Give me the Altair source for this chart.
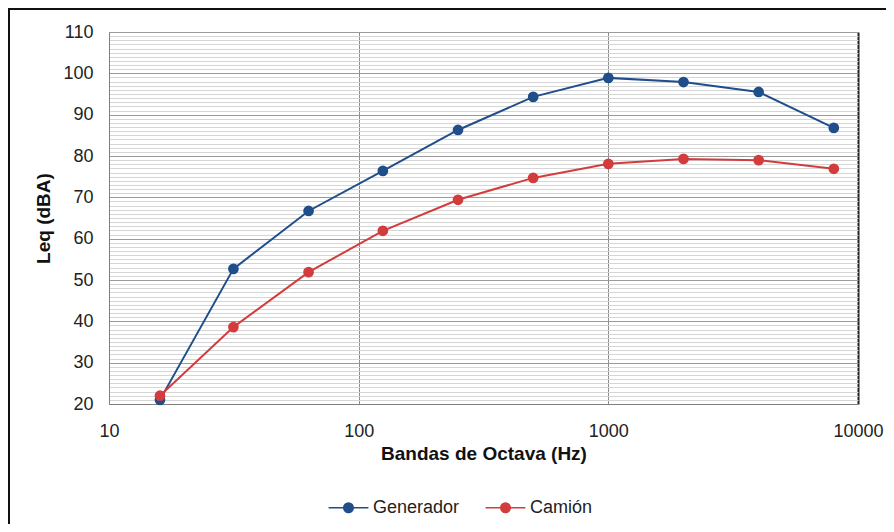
import altair as alt
import pandas as pd

freqs = [16, 31.5, 63, 125, 250, 500, 1000, 2000, 4000, 8000]
generador = [21.0, 52.7, 66.7, 76.4, 86.3, 94.3, 98.9, 97.9, 95.5, 86.8]
camion = [22.0, 38.6, 51.9, 61.9, 69.4, 74.7, 78.1, 79.3, 79.0, 76.9]
series_names = ["Generador", "Camión"]
series_colors = ["#1F4E8A", "#D23C3C"]
x_ticks = [10, 100, 1000, 10000]
y_ticks = list(range(20, 111))

rows = []
for f, g in zip(freqs, generador):
    rows.append({"f": f, "leq": g, "serie": "Generador"})
for f, c in zip(freqs, camion):
    rows.append({"f": f, "leq": c, "serie": "Camión"})
df = pd.DataFrame(rows)

FONT = "Liberation Sans"

# legend symbol: a line with a (ring-filled) dot in the middle
rings = [0.55, 0.40, 0.25, 0.10]
sym = "M -2.3 0 L 2.3 0"
for r in rings:
    sym += f" M {-r} 0 A {r} {r} 0 1 1 {r} 0 A {r} {r} 0 1 1 {-r} 0"

stroke_enc = alt.Stroke(
    "serie:N",
    scale=alt.Scale(domain=series_names, range=series_colors),
    legend=alt.Legend(
        title=None,
        orient="none",
        legendX=230,
        legendY=466,
        direction="horizontal",
        symbolType=sym,
        symbolSize=300,
        symbolStrokeWidth=1.5,
        labelOffset=15,
        columnPadding=22,
        labelFont=FONT,
        labelFontSize=18,
        labelColor="#222222",
    ),
)
fill_enc = alt.Fill(
    "serie:N",
    scale=alt.Scale(domain=series_names, range=series_colors),
    legend=None,
)

x = alt.X(
    "f:Q",
    scale=alt.Scale(type="log", domain=[10, 10000], nice=False),
    axis=alt.Axis(
        values=x_ticks,
        format="d",
        title="Bandas de Octava (Hz)",
        titleFont=FONT,
        titleFontSize=19,
        titleFontWeight="bold",
        titleColor="#111111",
        titlePadding=4,
        labelFont=FONT,
        labelFontSize=18,
        labelColor="#222222",
        labelPadding=18,
        labelFlush=False,
        ticks=False,
        domainColor="#808080",
        labelOverlap=False,
        gridColor={"condition": {"test": "datum.value === 10000", "value": "#222222"}, "value": "#8c8c8c"},
        gridWidth={"condition": {"test": "datum.value === 10000", "value": 2}, "value": 1},
    ),
)

y = alt.Y(
    "leq:Q",
    scale=alt.Scale(domain=[20, 110], nice=False),
    axis=alt.Axis(
        values=y_ticks,
        labelExpr="datum.value % 10 === 0 ? datum.label : ''",
        title="Leq (dBA)",
        titleFont=FONT,
        titleFontSize=19,
        titleFontWeight="bold",
        titleColor="#111111",
        titlePadding=9,
        labelFont=FONT,
        labelFontSize=18,
        labelColor="#222222",
        labelPadding=16,
        ticks=False,
        domainColor="#808080",
        labelOverlap=False,
        gridColor={"condition": {"test": "datum.value % 10 === 0", "value": "#9a9a9a"}, "value": "#d6d6d6"},
    ),
)

base = alt.Chart(df)
lines = base.mark_line(strokeWidth=2).encode(x=x, y=y, stroke=stroke_enc)
points = base.mark_point(filled=True, size=115, opacity=1, strokeWidth=0).encode(x=x, y=y, fill=fill_enc)

frame_df = pd.DataFrame({"k": [0]})
frame_left = alt.Chart(frame_df).mark_rule(color="#111111", strokeWidth=2).encode(
    x=alt.value(-100), y=alt.value(-24), y2=alt.value(620)
)
frame_top = alt.Chart(frame_df).mark_rule(color="#111111", strokeWidth=2).encode(
    x=alt.value(-101), x2=alt.value(900), y=alt.value(-23)
)

chart = (
    alt.layer(lines, points, frame_left, frame_top)
    .properties(
        width=749,
        height=372,
        autosize=alt.AutoSizeParams(type="none"),
        padding={"left": 101, "top": 24, "right": 28, "bottom": 120},
    )
    .configure_view(stroke="#8c8c8c", strokeWidth=1)
    .configure(background="white")
)

chart.save("out.html", embed_options={"renderer": "svg", "actions": False})
